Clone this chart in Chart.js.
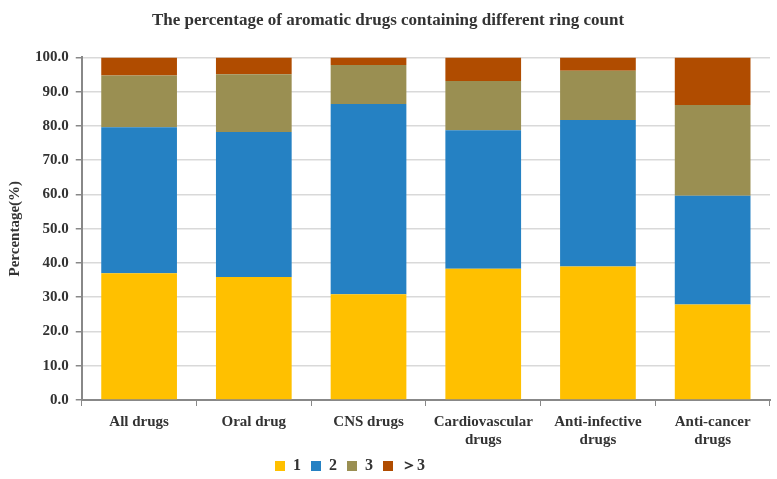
<!DOCTYPE html>
<html>
<head>
<meta charset="utf-8">
<script src="https://cdn.jsdelivr.net/npm/chart.js@4/dist/chart.umd.min.js"></script>
<style>
  html, body { margin: 0; padding: 0; background: #fff; }
  #wrap { width: 777px; height: 479px; }
</style>
</head>
<body>
<div id="wrap"><canvas id="ringChart"></canvas></div>
<script>
// categories and values (percent)
const categories = [
    'All drugs', 'Oral drug', 'CNS drugs',
    ['Cardiovascular', 'drugs'], ['Anti-infective', 'drugs'], ['Anti-cancer', 'drugs']
];
const ring1 = [37.0, 35.9, 30.9, 38.3, 39.0, 27.9];
const ring2 = [42.6, 42.3, 55.5, 40.4, 42.7, 31.7];
const ring3 = [15.1, 16.9, 11.4, 14.4, 14.4, 26.5];
const ringMore = [5.3, 4.9, 2.2, 6.9, 3.9, 13.9];
const yTicks = [0, 10, 20, 30, 40, 50, 60, 70, 80, 90, 100];

const serif = '"Liberation Serif", "Times New Roman", serif';
const textColor = '#333';

// the legend in the original sits a bit left of centre and close to the axis labels
const shiftLegend = {
    id: 'shiftLegend',
    afterLayout(chart) {
        const lg = chart.legend;
        if (!lg) return;
        lg.left -= 38;
        lg.right -= 38;
        lg.top -= 8;
        lg.bottom -= 8;
    }
};

new Chart(document.getElementById('ringChart'), {
    type: 'bar',
    data: {
        labels: categories,
        datasets: [
            { label: '1', data: ring1, backgroundColor: '#FFC000' },
            { label: '2', data: ring2, backgroundColor: '#2581C3' },
            { label: '3', data: ring3, backgroundColor: '#9A8F52' },
            { label: '＞3', data: ringMore, backgroundColor: '#B04C00' }
        ]
    },
    plugins: [shiftLegend],
    options: {
        responsive: true,
        maintainAspectRatio: false,
        animation: false,
        datasets: {
            bar: { categoryPercentage: 0.66, barPercentage: 1.0, borderWidth: 0 }
        },
        layout: { padding: { left: 6, right: 7, top: 4, bottom: -13 } },
        plugins: {
            title: {
                display: true,
                text: 'The percentage of aromatic drugs containing different ring count',
                color: textColor,
                font: { family: serif, size: 17, weight: 'bold' },
                padding: { top: 6, bottom: 27 }
            },
            legend: {
                position: 'bottom',
                labels: {
                    boxWidth: 10,
                    boxHeight: 10,
                    padding: 10,
                    color: textColor,
                    font: { family: serif, size: 16, weight: 'bold' }
                }
            },
            tooltip: { enabled: false }
        },
        scales: {
            x: {
                stacked: true,
                grid: {
                    display: true,
                    drawOnChartArea: false,
                    drawTicks: true,
                    tickLength: 6,
                    tickColor: '#888',
                    offset: true
                },
                border: { color: '#888', width: 2 },
                ticks: {
                    color: textColor,
                    maxRotation: 0,
                    autoSkip: false,
                    padding: 7,
                    font: { family: serif, size: 15, weight: 'bold' }
                }
            },
            y: {
                stacked: true,
                min: 0,
                max: 100,
                afterBuildTicks: function(axis) {
                    axis.ticks = yTicks.map(v => ({ value: v }));
                },
                grid: {
                    color: '#D9D9D9',
                    lineWidth: 1.5,
                    tickLength: 6,
                    tickColor: '#888'
                },
                border: { color: '#888', width: 2 },
                title: {
                    display: true,
                    text: 'Percentage(%)',
                    color: textColor,
                    font: { family: serif, size: 15, weight: 'bold' },
                    padding: { top: 0, bottom: 4 }
                },
                ticks: {
                    color: textColor,
                    padding: 7,
                    font: { family: serif, size: 15, weight: 'bold' },
                    callback: function(value) {
                        return Number(value).toFixed(1);
                    }
                }
            }
        }
    }
});
</script>
</body>
</html>
